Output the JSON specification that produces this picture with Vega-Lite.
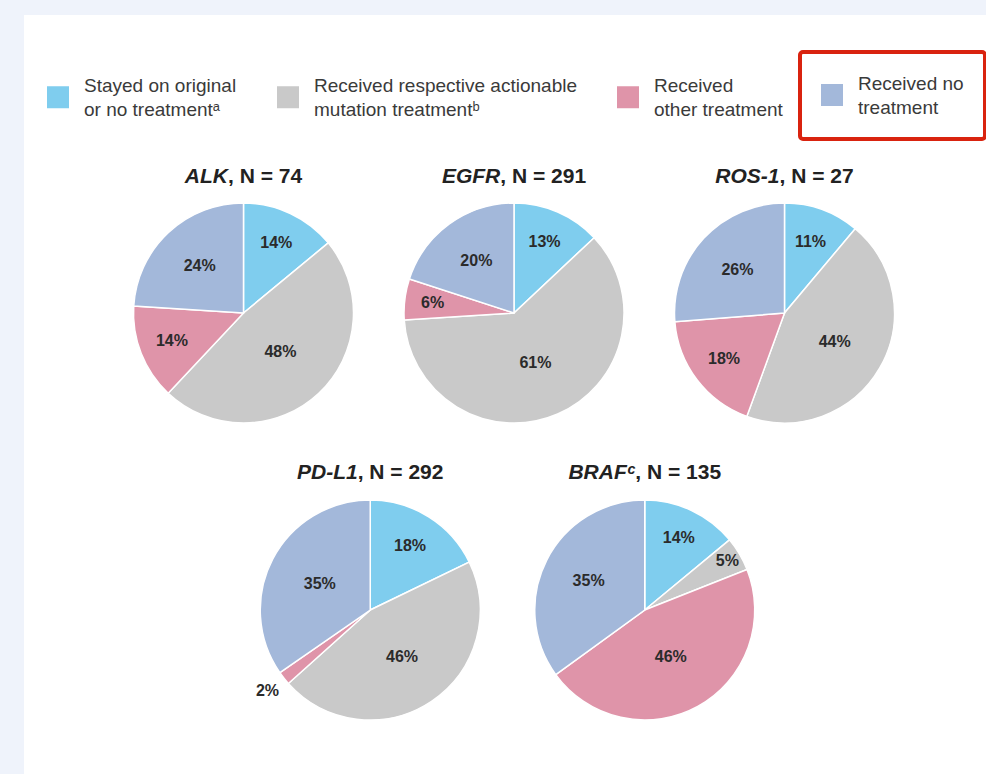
{
  "$schema": "https://vega.github.io/schema/vega-lite/v6.json",
  "padding": 0,
  "background": "white",
  "spacing": 0,
  "bounds": "flush",
  "config": {"view": {"stroke": null}, "text": {"font": "Liberation Sans"}},
  "datasets": {
    "pies": [
      {"gene": "ALK", "category": "Stayed on original or no treatment", "share": 0.14},
      {"gene": "ALK", "category": "Received respective actionable mutation treatment", "share": 0.48},
      {"gene": "ALK", "category": "Received other treatment", "share": 0.14},
      {"gene": "ALK", "category": "Received no treatment", "share": 0.24},
      {"gene": "EGFR", "category": "Stayed on original or no treatment", "share": 0.13},
      {"gene": "EGFR", "category": "Received respective actionable mutation treatment", "share": 0.61},
      {"gene": "EGFR", "category": "Received other treatment", "share": 0.06},
      {"gene": "EGFR", "category": "Received no treatment", "share": 0.20},
      {"gene": "ROS-1", "category": "Stayed on original or no treatment", "share": 0.11},
      {"gene": "ROS-1", "category": "Received respective actionable mutation treatment", "share": 0.44},
      {"gene": "ROS-1", "category": "Received other treatment", "share": 0.18},
      {"gene": "ROS-1", "category": "Received no treatment", "share": 0.26},
      {"gene": "PD-L1", "category": "Stayed on original or no treatment", "share": 0.18},
      {"gene": "PD-L1", "category": "Received respective actionable mutation treatment", "share": 0.46},
      {"gene": "PD-L1", "category": "Received other treatment", "share": 0.02},
      {"gene": "PD-L1", "category": "Received no treatment", "share": 0.35},
      {"gene": "BRAF", "category": "Stayed on original or no treatment", "share": 0.14},
      {"gene": "BRAF", "category": "Received respective actionable mutation treatment", "share": 0.05},
      {"gene": "BRAF", "category": "Received other treatment", "share": 0.46},
      {"gene": "BRAF", "category": "Received no treatment", "share": 0.35}
    ]
  },
  "vconcat": [
    {
      "width": 986, "height": 15,
      "view": {"fill": "#eff3fb", "stroke": null},
      "data": {"values": [{}]},
      "mark": {"type": "point", "opacity": 0},
      "encoding": {}
    },
    {
      "spacing": 109.5,
      "bounds": "flush",
      "hconcat": [
        {
          "width": 24, "height": 759,
          "view": {"fill": "#eff3fb", "stroke": null},
          "data": {"values": [{}]},
          "mark": {"type": "point", "opacity": 0},
          "encoding": {}
        },
        {
          "center": true,
          "spacing": 36,
          "bounds": "full",
          "vconcat": [
            {
              "width": 1, "height": 115,
              "data": {"values": [{}]},
              "mark": {"type": "point", "opacity": 0},
              "encoding": {}
            },
            {
              "spacing": 50.5,
              "bounds": "flush",
              "hconcat": [
                {
                  "width": 220, "height": 220,
                  "layer": [
                    {
                      "data": {"name": "pies"},
                      "transform": [{"filter": "datum.gene === 'ALK'"}],
                      "encoding": {
                        "theta": {"field": "share", "type": "quantitative", "stack": "normalize"},
                        "order": {"field": "category", "type": "nominal", "sort": "descending"},
                        "detail": {"field": "category", "type": "nominal"}
                      },
                      "layer": [
                        {
                          "mark": {"type": "arc", "strokeWidth": 1.5},
                          "encoding": {
                            "color": {
                              "field": "category", "type": "nominal",
                              "scale": {
                                "domain": ["Stayed on original or no treatment", "Received respective actionable mutation treatment", "Received other treatment", "Received no treatment"],
                                "range": ["#7fcdee", "#c9c9c9", "#df94a9", "#a3b8da"]
                              },
                              "legend": {
                                "title": null, "orient": "none", "legendX": 47, "legendY": 75,
                                "direction": "horizontal",
                                "values": ["Stayed on original or no treatment", "Received respective actionable mutation treatment", "Received other treatment"],
                                "symbolType": "M-1,0H1V2H-1Z", "symbolSize": 484, "symbolStrokeWidth": 0,
                                "labelFont": "Liberation Sans", "labelFontSize": 19, "labelColor": "#3a3a3a",
                                "labelLimit": 400, "labelOffset": 15, "columnPadding": 40, "padding": 0,
                                "labelExpr": "datum.label === 'Stayed on original or no treatment' ? ['Stayed on original', 'or no treatmentᵃ'] : datum.label === 'Received respective actionable mutation treatment' ? ['Received respective actionable', 'mutation treatmentᵇ'] : ['Received', 'other treatment']",
                                "encode": {"labels": {"update": {"lineHeight": {"value": 23.5}}}}
                              }
                            },
                            "stroke": {
                              "field": "category", "type": "nominal",
                              "scale": {
                                "domain": ["Received no treatment", "Stayed on original or no treatment", "Received respective actionable mutation treatment", "Received other treatment"],
                                "range": ["white", "white", "white", "white"]
                              },
                              "legend": {
                                "title": null, "orient": "none", "legendX": 800, "legendY": 52,
                                "values": ["Received no treatment"],
                                "symbolType": "M-1,0H1V2H-1Z", "symbolSize": 484, "symbolFillColor": "#a3b8da", "symbolStrokeWidth": 0,
                                "labelFont": "Liberation Sans", "labelFontSize": 19, "labelColor": "#3a3a3a",
                                "labelLimit": 400, "labelOffset": 15, "padding": 21,
                                "strokeColor": "#d9230f", "cornerRadius": 3,
                                "labelExpr": "['Received no', 'treatment']",
                                "encode": {
                                  "legend": {"update": {"strokeWidth": {"value": 4}}},
                                  "labels": {"update": {"lineHeight": {"value": 23.5}}}
                                }
                              }
                            }
                          }
                        },
                        {"mark": {"type": "text", "radius": 54, "fontSize": 16, "fontWeight": "bold", "color": "#2b2b2b"}, "encoding": {"text": {"condition": {"test": "datum.share >= 0.4", "field": "share", "type": "quantitative", "format": ".0%"}, "value": ""}}},
                        {"mark": {"type": "text", "radius": 64, "fontSize": 16, "fontWeight": "bold", "color": "#2b2b2b"}, "encoding": {"text": {"condition": {"test": "datum.share >= 0.19 && datum.share < 0.4", "field": "share", "type": "quantitative", "format": ".0%"}, "value": ""}}},
                        {"mark": {"type": "text", "radius": 77, "fontSize": 16, "fontWeight": "bold", "color": "#2b2b2b"}, "encoding": {"text": {"condition": {"test": "datum.share >= 0.1 && datum.share < 0.19", "field": "share", "type": "quantitative", "format": ".0%"}, "value": ""}}}
                      ]
                    },
                    {"data": {"values": [{}]}, "mark": {"type": "text", "text": "ALK", "x": 110, "y": -20, "dx": -15.5, "align": "right", "baseline": "alphabetic", "fontSize": 21, "fontWeight": "bold", "fontStyle": "italic", "color": "#222222"}, "encoding": {}},
                    {"data": {"values": [{}]}, "mark": {"type": "text", "text": ", N = 74", "x": 110, "y": -20, "dx": -15.5, "align": "left", "baseline": "alphabetic", "fontSize": 21, "fontWeight": "bold", "color": "#222222"}, "encoding": {}}
                  ]
                },
                {
                  "width": 220, "height": 220,
                  "layer": [
                    {
                      "data": {"name": "pies"},
                      "transform": [{"filter": "datum.gene === 'EGFR'"}],
                      "encoding": {
                        "theta": {"field": "share", "type": "quantitative", "stack": "normalize"},
                        "order": {"field": "category", "type": "nominal", "sort": "descending"},
                        "detail": {"field": "category", "type": "nominal"}
                      },
                      "layer": [
                        {
                          "mark": {"type": "arc", "strokeWidth": 1.5},
                          "encoding": {
                            "color": {"field": "category", "type": "nominal", "legend": null},
                            "stroke": {"field": "category", "type": "nominal", "legend": null}
                          }
                        },
                        {"mark": {"type": "text", "radius": 54, "fontSize": 16, "fontWeight": "bold", "color": "#2b2b2b"}, "encoding": {"text": {"condition": {"test": "datum.share >= 0.4", "field": "share", "type": "quantitative", "format": ".0%"}, "value": ""}}},
                        {"mark": {"type": "text", "radius": 64, "fontSize": 16, "fontWeight": "bold", "color": "#2b2b2b"}, "encoding": {"text": {"condition": {"test": "datum.share >= 0.19 && datum.share < 0.4", "field": "share", "type": "quantitative", "format": ".0%"}, "value": ""}}},
                        {"mark": {"type": "text", "radius": 77, "fontSize": 16, "fontWeight": "bold", "color": "#2b2b2b"}, "encoding": {"text": {"condition": {"test": "datum.share >= 0.1 && datum.share < 0.19", "field": "share", "type": "quantitative", "format": ".0%"}, "value": ""}}},
                        {"mark": {"type": "text", "radius": 82, "fontSize": 16, "fontWeight": "bold", "color": "#2b2b2b"}, "encoding": {"text": {"condition": {"test": "datum.share >= 0.055 && datum.share < 0.1", "field": "share", "type": "quantitative", "format": ".0%"}, "value": ""}}}
                      ]
                    },
                    {"data": {"values": [{}]}, "mark": {"type": "text", "text": "EGFR", "x": 110, "y": -20, "dx": -13.75, "align": "right", "baseline": "alphabetic", "fontSize": 21, "fontWeight": "bold", "fontStyle": "italic", "color": "#222222"}, "encoding": {}},
                    {"data": {"values": [{}]}, "mark": {"type": "text", "text": ", N = 291", "x": 110, "y": -20, "dx": -13.75, "align": "left", "baseline": "alphabetic", "fontSize": 21, "fontWeight": "bold", "color": "#222222"}, "encoding": {}}
                  ]
                },
                {
                  "width": 220, "height": 220,
                  "layer": [
                    {
                      "data": {"name": "pies"},
                      "transform": [{"filter": "datum.gene === 'ROS-1'"}],
                      "encoding": {
                        "theta": {"field": "share", "type": "quantitative", "stack": "normalize"},
                        "order": {"field": "category", "type": "nominal", "sort": "descending"},
                        "detail": {"field": "category", "type": "nominal"}
                      },
                      "layer": [
                        {
                          "mark": {"type": "arc", "strokeWidth": 1.5},
                          "encoding": {
                            "color": {"field": "category", "type": "nominal", "legend": null},
                            "stroke": {"field": "category", "type": "nominal", "legend": null}
                          }
                        },
                        {"mark": {"type": "text", "radius": 58, "fontSize": 16, "fontWeight": "bold", "color": "#2b2b2b"}, "encoding": {"text": {"condition": {"test": "datum.share >= 0.4", "field": "share", "type": "quantitative", "format": ".0%"}, "value": ""}}},
                        {"mark": {"type": "text", "radius": 64, "fontSize": 16, "fontWeight": "bold", "color": "#2b2b2b"}, "encoding": {"text": {"condition": {"test": "datum.share >= 0.19 && datum.share < 0.4", "field": "share", "type": "quantitative", "format": ".0%"}, "value": ""}}},
                        {"mark": {"type": "text", "radius": 76, "fontSize": 16, "fontWeight": "bold", "color": "#2b2b2b"}, "encoding": {"text": {"condition": {"test": "datum.share >= 0.1 && datum.share < 0.19", "field": "share", "type": "quantitative", "format": ".0%"}, "value": ""}}}
                      ]
                    },
                    {"data": {"values": [{}]}, "mark": {"type": "text", "text": "ROS-1", "x": 110, "y": -20, "dx": -5, "align": "right", "baseline": "alphabetic", "fontSize": 21, "fontWeight": "bold", "fontStyle": "italic", "color": "#222222"}, "encoding": {}},
                    {"data": {"values": [{}]}, "mark": {"type": "text", "text": ", N = 27", "x": 110, "y": -20, "dx": -5, "align": "left", "baseline": "alphabetic", "fontSize": 21, "fontWeight": "bold", "color": "#222222"}, "encoding": {}}
                  ]
                }
              ]
            },
            {
              "spacing": 38.5,
              "bounds": "flush",
              "hconcat": [
                {
                  "width": 220, "height": 220,
                  "layer": [
                    {
                      "data": {"name": "pies"},
                      "transform": [{"filter": "datum.gene === 'PD-L1'"}],
                      "encoding": {
                        "theta": {"field": "share", "type": "quantitative", "stack": "normalize"},
                        "order": {"field": "category", "type": "nominal", "sort": "descending"},
                        "detail": {"field": "category", "type": "nominal"}
                      },
                      "layer": [
                        {
                          "mark": {"type": "arc", "strokeWidth": 1.5},
                          "encoding": {
                            "color": {"field": "category", "type": "nominal", "legend": null},
                            "stroke": {"field": "category", "type": "nominal", "legend": null}
                          }
                        },
                        {"mark": {"type": "text", "radius": 57, "fontSize": 16, "fontWeight": "bold", "color": "#2b2b2b"}, "encoding": {"text": {"condition": {"test": "datum.share >= 0.19", "field": "share", "type": "quantitative", "format": ".0%"}, "value": ""}}},
                        {"mark": {"type": "text", "radius": 75, "fontSize": 16, "fontWeight": "bold", "color": "#2b2b2b"}, "encoding": {"text": {"condition": {"test": "datum.share >= 0.1 && datum.share < 0.19", "field": "share", "type": "quantitative", "format": ".0%"}, "value": ""}}},
                        {"mark": {"type": "text", "radius": 131, "fontSize": 16, "fontWeight": "bold", "color": "#2b2b2b"}, "encoding": {"text": {"condition": {"test": "datum.share < 0.04", "field": "share", "type": "quantitative", "format": ".0%"}, "value": ""}}}
                      ]
                    },
                    {"data": {"values": [{}]}, "mark": {"type": "text", "text": "PD-L1", "x": 110, "y": -21, "dx": -12.6, "align": "right", "baseline": "alphabetic", "fontSize": 21, "fontWeight": "bold", "fontStyle": "italic", "color": "#222222"}, "encoding": {}},
                    {"data": {"values": [{}]}, "mark": {"type": "text", "text": ", N = 292", "x": 110, "y": -21, "dx": -12.6, "align": "left", "baseline": "alphabetic", "fontSize": 21, "fontWeight": "bold", "color": "#222222"}, "encoding": {}}
                  ]
                },
                {
                  "width": 252, "height": 220,
                  "layer": [
                    {
                      "data": {"name": "pies"},
                      "transform": [{"filter": "datum.gene === 'BRAF'"}],
                      "encoding": {
                        "theta": {"field": "share", "type": "quantitative", "stack": "normalize"},
                        "order": {"field": "category", "type": "nominal", "sort": "descending"},
                        "detail": {"field": "category", "type": "nominal"}
                      },
                      "layer": [
                        {
                          "mark": {"type": "arc", "strokeWidth": 1.5},
                          "encoding": {
                            "color": {"field": "category", "type": "nominal", "legend": null},
                            "stroke": {"field": "category", "type": "nominal", "legend": null}
                          }
                        },
                        {"mark": {"type": "text", "radius": 54, "fontSize": 16, "fontWeight": "bold", "color": "#2b2b2b"}, "encoding": {"text": {"condition": {"test": "datum.share >= 0.4", "field": "share", "type": "quantitative", "format": ".0%"}, "value": ""}}},
                        {"mark": {"type": "text", "radius": 63, "fontSize": 16, "fontWeight": "bold", "color": "#2b2b2b"}, "encoding": {"text": {"condition": {"test": "datum.share >= 0.19 && datum.share < 0.4", "field": "share", "type": "quantitative", "format": ".0%"}, "value": ""}}},
                        {"mark": {"type": "text", "radius": 80, "fontSize": 16, "fontWeight": "bold", "color": "#2b2b2b"}, "encoding": {"text": {"condition": {"test": "datum.share >= 0.1 && datum.share < 0.19", "field": "share", "type": "quantitative", "format": ".0%"}, "value": ""}}},
                        {"mark": {"type": "text", "radius": 96, "fontSize": 16, "fontWeight": "bold", "color": "#2b2b2b"}, "encoding": {"text": {"condition": {"test": "datum.share >= 0.04 && datum.share < 0.055", "field": "share", "type": "quantitative", "format": ".0%"}, "value": ""}}}
                      ]
                    },
                    {"data": {"values": [{}]}, "mark": {"type": "text", "text": "BRAFᶜ", "x": 126, "y": -21, "dx": -9.5, "align": "right", "baseline": "alphabetic", "fontSize": 21, "fontWeight": "bold", "fontStyle": "italic", "color": "#222222"}, "encoding": {}},
                    {"data": {"values": [{}]}, "mark": {"type": "text", "text": ", N = 135", "x": 126, "y": -21, "dx": -9.5, "align": "left", "baseline": "alphabetic", "fontSize": 21, "fontWeight": "bold", "color": "#222222"}, "encoding": {}}
                  ]
                }
              ]
            }
          ]
        }
      ]
    }
  ]
}
